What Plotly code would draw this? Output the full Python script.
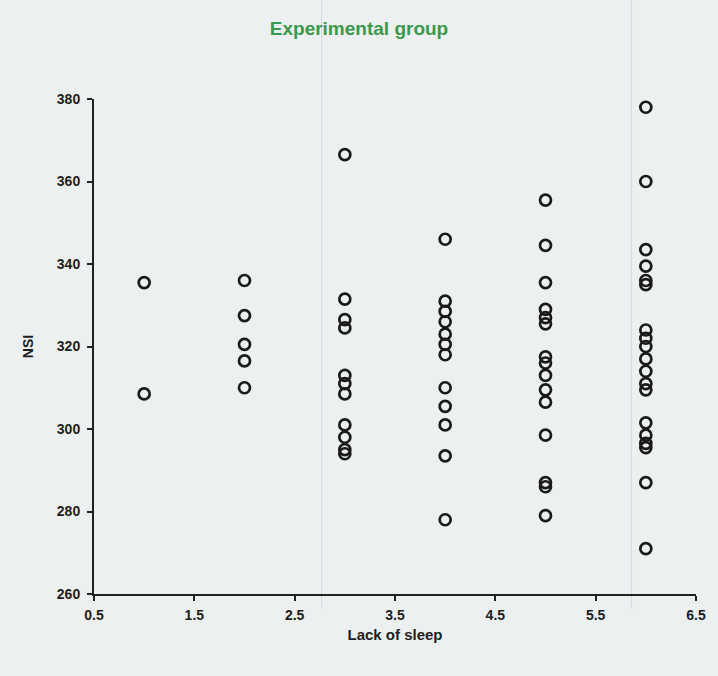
import plotly.graph_objects as go

# Lack-of-sleep score for each group of observations
sleep_levels = [1, 2, 3, 4, 5, 6]

# NSI readings observed at each lack-of-sleep score
nsi_1 = [335.5, 308.5]
nsi_2 = [336, 327.5, 320.5, 316.5, 310]
nsi_3 = [366.5, 331.5, 326.5, 324.5, 313, 311, 308.5, 301, 298, 295, 294]
nsi_4 = [346, 331, 328.5, 326, 323, 320.5, 318, 310, 305.5, 301, 293.5, 278]
nsi_5 = [355.5, 344.5, 335.5, 329, 327, 325.5, 317.5, 316, 313, 309.5,
         306.5, 298.5, 287, 286, 279]
nsi_6 = [378, 360, 343.5, 339.5, 336, 335, 324, 322, 320, 317, 314, 311,
         309.5, 301.5, 298.5, 296.5, 295.5, 287, 271]

x_ticks = [0.5, 1.5, 2.5, 3.5, 4.5, 5.5, 6.5]
y_ticks = [260, 280, 300, 320, 340, 360, 380]

groups = [nsi_1, nsi_2, nsi_3, nsi_4, nsi_5, nsi_6]
xs, ys = [], []
for level, values in zip(sleep_levels, groups):
    xs.extend([level] * len(values))
    ys.extend(values)

font_family = "Liberation Sans, Arial, sans-serif"
ink = "#1e1e1e"

fig = go.Figure(
    go.Scatter(
        x=xs,
        y=ys,
        mode="markers",
        marker=dict(
            symbol="circle-open",
            size=11,
            color="#1a1a1a",
            line=dict(width=2.7, color="#1a1a1a"),
        ),
        showlegend=False,
        hoverinfo="x+y",
    )
)

axis_common = dict(
    showgrid=False,
    zeroline=False,
    showline=True,
    linecolor="#222222",
    linewidth=2,
    ticks="outside",
    ticklen=5,
    tickwidth=2,
    tickcolor="#222222",
    tickfont=dict(family=font_family, size=14, color=ink, weight="bold"),
)

fig.update_xaxes(
    range=[0.5, 6.5],
    tickvals=x_ticks,
    ticktext=[f"{v:.1f}" for v in x_ticks],
    ticklabelstandoff=2,
    title=dict(
        text="Lack of sleep",
        font=dict(family=font_family, size=15, color=ink, weight="bold"),
        standoff=8,
    ),
    **axis_common,
)
fig.update_yaxes(
    range=[260, 380],
    tickvals=y_ticks,
    ticklabelstandoff=4,
    title=dict(
        text="NSI",
        font=dict(family=font_family, size=14, color=ink, weight="bold"),
        standoff=20,
    ),
    **axis_common,
)

# faint vertical streaks running through the page background
for xpos in [0.378, 0.893]:
    fig.add_shape(
        type="line", xref="paper", yref="paper",
        x0=xpos, x1=xpos, y0=-0.03, y1=1.25,
        line=dict(color="rgba(195,202,204,0.55)", width=1),
        layer="below",
    )

fig.update_layout(
    width=718,
    height=676,
    margin=dict(l=94, r=18, t=99, b=82),
    paper_bgcolor="#edf0f0",
    plot_bgcolor="rgba(0,0,0,0)",
    title=dict(
        text="Experimental group",
        x=0.5,
        xanchor="center",
        y=0.958,
        yanchor="middle",
        font=dict(family=font_family, size=19, color="#3a9a4c", weight="bold"),
    ),
)

fig.write_html("out.html")
